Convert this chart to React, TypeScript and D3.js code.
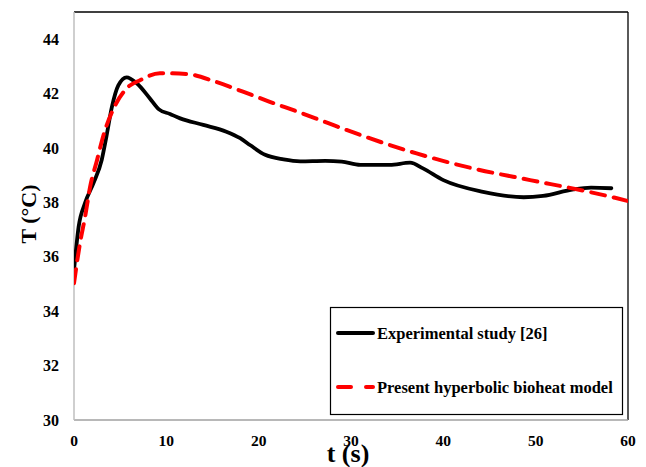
import React, { useEffect, useRef } from 'react';
import * as d3 from 'd3';

// Experimental study [26]
const expTime = [0, 0.5, 1.2, 2.1, 3.0, 3.5, 4.1, 4.8, 5.7, 6.8, 8.2, 9.2, 10.4, 11.5, 14, 16.5, 18, 19.1, 20.7, 22.7, 24.5, 27.2, 29, 31, 34.2, 36.4, 37.8, 40, 44.3, 48.7, 50.8, 54.1, 56, 58.2];
const expTemp = [35.5, 37.1, 37.98, 38.7, 39.56, 40.4, 41.5, 42.3, 42.6, 42.38, 41.83, 41.42, 41.25, 41.09, 40.85, 40.6, 40.36, 40.1, 39.75, 39.58, 39.51, 39.53, 39.5, 39.38, 39.38, 39.46, 39.25, 38.82, 38.39, 38.19, 38.24, 38.48, 38.54, 38.52];

// Present hyperbolic bioheat model
const modelTime = [0, 0.65, 1.2, 1.75, 2.5, 3.2, 4.3, 5.7, 7.2, 9.3, 12.2, 15.3, 18.3, 21.2, 24.5, 27.4, 31, 37.1, 43.2, 49.4, 55.2, 58.6, 60];
const modelTemp = [35.03, 36.5, 37.47, 38.58, 39.56, 40.48, 41.46, 42.19, 42.5, 42.75, 42.72, 42.44, 42.07, 41.7, 41.3, 40.93, 40.48, 39.8, 39.25, 38.82, 38.43, 38.17, 38.05];

const xTicks = [0, 10, 20, 30, 40, 50, 60];
const yTicks = [30, 32, 34, 36, 38, 40, 42, 44];
const legendLabels = ['Experimental study [26]', 'Present hyperbolic bioheat model'];

const W = 646, H = 467;
const margin = { top: 12, right: 18, bottom: 47, left: 74 };

export default function App() {
  const ref = useRef<SVGSVGElement>(null);

  useEffect(() => {
    const svg = d3.select(ref.current);
    svg.selectAll('*').remove();
    const font = '"Liberation Serif", "Times New Roman", serif';

    const x = d3.scaleLinear().domain([0, 60]).range([margin.left, W - margin.right]);
    const y = d3.scaleLinear().domain([30, 45]).range([H - margin.bottom, margin.top]);

    svg.append('defs').append('clipPath').attr('id', 'plotclip')
      .append('rect')
      .attr('x', x(0)).attr('y', y(45))
      .attr('width', x(60) - x(0)).attr('height', y(30) - y(45));

    // frame: top and right black, axes grey
    svg.append('line').attr('x1', x(0)).attr('x2', x(60)).attr('y1', y(45)).attr('y2', y(45))
      .attr('stroke', '#000').attr('stroke-width', 1.3);
    svg.append('line').attr('x1', x(60)).attr('x2', x(60)).attr('y1', y(45)).attr('y2', y(30))
      .attr('stroke', '#000').attr('stroke-width', 1.3);
    svg.append('line').attr('x1', x(0)).attr('x2', x(60)).attr('y1', y(30)).attr('y2', y(30))
      .attr('stroke', '#a0a0a0').attr('stroke-width', 1.5);
    svg.append('line').attr('x1', x(0)).attr('x2', x(0)).attr('y1', y(45)).attr('y2', y(30))
      .attr('stroke', '#bfbfbf').attr('stroke-width', 1.5);

    // tick labels
    svg.append('g').selectAll('text').data(yTicks).enter().append('text')
      .attr('x', 59).attr('y', d => y(d) + 5.5)
      .attr('text-anchor', 'end')
      .attr('font-family', font).attr('font-weight', 'bold').attr('font-size', 16)
      .text(d => d);
    svg.append('g').selectAll('text').data(xTicks).enter().append('text')
      .attr('x', d => x(d)).attr('y', 446)
      .attr('text-anchor', 'middle')
      .attr('font-family', font).attr('font-weight', 'bold').attr('font-size', 15.5)
      .text(d => d);

    // axis titles
    svg.append('text')
      .attr('transform', 'translate(36,' + 214 + ') rotate(-90)')
      .attr('text-anchor', 'middle')
      .attr('font-family', font).attr('font-weight', 'bold').attr('font-size', 22)
      .text('T (°C)');
    svg.append('text')
      .attr('x', 348).attr('y', 462)
      .attr('text-anchor', 'middle')
      .attr('font-family', font).attr('font-weight', 'bold').attr('font-size', 26)
      .text('t (s)');

    const line = d3.line<[number, number]>()
      .x(d => x(d[0])).y(d => y(d[1]))
      .curve(d3.curveMonotoneX);

    const plot = svg.append('g').attr('clip-path', 'url(#plotclip)');
    plot.append('path')
      .attr('d', line(expTime.map((t, i) => [t, expTemp[i]] as [number, number])))
      .attr('fill', 'none').attr('stroke', '#000').attr('stroke-width', 3.8)
      .attr('stroke-linecap', 'round');
    plot.append('path')
      .attr('d', line(modelTime.map((t, i) => [t, modelTemp[i]] as [number, number])))
      .attr('fill', 'none').attr('stroke', '#ff0000').attr('stroke-width', 4)
      .attr('stroke-dasharray', '14,9')
      .attr('stroke-linecap', 'round');

    // legend
    const lg = svg.append('g');
    lg.append('rect').attr('x', 330.5).attr('y', 307.5).attr('width', 292).attr('height', 107)
      .attr('fill', '#fff').attr('stroke', '#000').attr('stroke-width', 1.2);
    const rows = lg.selectAll('g.row').data(legendLabels).enter().append('g')
      .attr('transform', (d, i) => 'translate(0,' + (333 + i * 54) + ')');
    rows.append('line')
      .attr('x1', 338).attr('x2', 373).attr('y1', 0).attr('y2', 0)
      .attr('stroke', (d, i) => (i === 0 ? '#000' : '#ff0000'))
      .attr('stroke-width', 4)
      .attr('stroke-linecap', 'round')
      .attr('stroke-dasharray', (d, i) => (i === 0 ? null : '13,15'));
    rows.append('text')
      .attr('x', 377).attr('y', 5.5)
      .attr('font-family', font).attr('font-weight', 'bold').attr('font-size', 16.5)
      .text(d => d);
  }, []);

  return (
    <svg ref={ref} width={W} height={H}
      style={{ position: 'absolute', left: 0, top: 0, background: '#fff' }} />
  );
}
